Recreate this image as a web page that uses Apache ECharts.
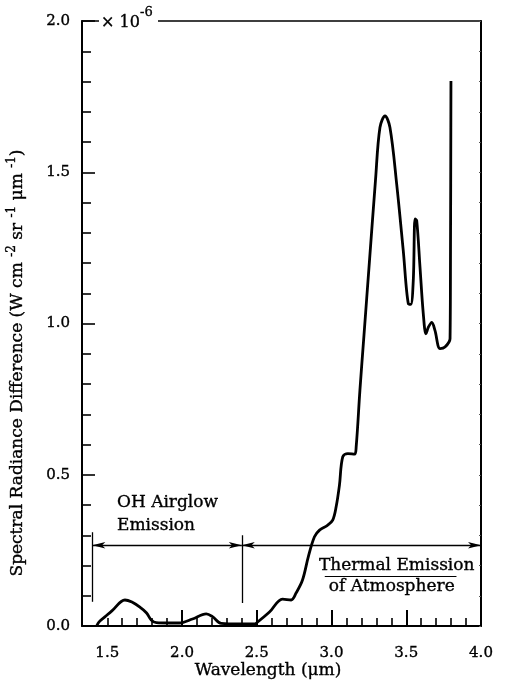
<!DOCTYPE html>
<html><head><meta charset="utf-8">
<script src="https://cdn.jsdelivr.net/npm/echarts@6/dist/echarts.min.js"></script>
<style>html,body{margin:0;padding:0;background:#fff}#c{width:505px;height:684px}</style>
</head><body><div id="c"></div>
<script>
// ---- data ----
const wavelength = [1.429,1.444,1.484,1.531,1.618,1.665,1.716,1.763,1.794,1.828,1.917,1.983,2.070,2.162,2.204,2.262,2.385,2.485,2.498,2.585,2.672,2.730,2.763,2.806,2.846,2.886,2.920,2.973,3.008,3.031,3.053,3.075,3.109,3.154,3.165,3.190,3.217,3.254,3.294,3.324,3.358,3.391,3.436,3.480,3.514,3.530,3.547,3.559,3.570,3.592,3.614,3.632,3.648,3.671,3.692,3.726,3.759,3.793,3.796,3.799];
const radiance   = [0.000,0.013,0.030,0.050,0.086,0.079,0.063,0.043,0.020,0.011,0.010,0.010,0.023,0.040,0.031,0.009,0.007,0.007,0.010,0.046,0.089,0.086,0.109,0.152,0.231,0.295,0.317,0.333,0.350,0.394,0.465,0.559,0.570,0.568,0.592,0.779,0.960,1.207,1.472,1.648,1.686,1.648,1.461,1.241,1.065,1.063,1.142,1.346,1.340,1.186,1.032,0.966,0.988,1.004,0.977,0.917,0.922,0.950,1.241,1.802];
const xTickLabels = [1.5,2.0,2.5,3.0,3.5,4.0];
const xMajorTicks = [2.0,2.5,3.0,3.5];
const xMinorTicks = [1.5,1.6,1.7,1.8,1.9,2.1,2.2,2.3,2.4,2.6,2.7,2.8,2.9,3.1,3.2,3.3,3.4,3.6,3.7,3.8,3.9];
const xRange = [1.331, 4.0];
const yRange = [0, 2.0];
const yLabelStep = 0.5;
// annotation geometry (data coordinates)
const arrowY = 0.267;
const ohArrow = [[1.40, arrowY],[2.40, arrowY]];
const thermalArrow = [[2.40, arrowY],[4.0, arrowY]];
const ohBar = [[1.40, 0.31],[1.40, 0.08]];
const midBar = [[2.40, 0.30],[2.40, 0.076]];
const thermalRule = [[2.955, 0.165],[3.836, 0.165]];
const ohText = [{t:'OH Airglow', x:1.565, y:0.409},{t:'Emission', x:1.565, y:0.333}];
const thermalText = [{t:'Thermal Emission', x:3.436, y:0.201},{t:'of Atmosphere', x:3.403, y:0.129}];

const FONT = 'DejaVu Serif';
const INK = {textBorderColor:'#000', textBorderWidth:0.35};
const chart = echarts.init(document.getElementById('c'), null, {renderer:'canvas'});
const lineData = wavelength.map((x,i)=>[x, radiance[i]]);

const option = {
  animation:false,
  backgroundColor:'#fff',
  grid:{left:82,right:24,top:21,bottom:58},
  xAxis:[
    {type:'value',position:'bottom',min:xRange[0],max:xRange[1],
     axisLine:{show:true,lineStyle:{color:'#000',width:2}},
     axisTick:{show:true,inside:true,length:16,customValues:xMajorTicks,lineStyle:{color:'#000',width:2}},
     axisLabel:Object.assign({show:true,customValues:xTickLabels,margin:20,color:'#000',fontFamily:FONT,fontSize:15,
       formatter:v=>v.toFixed(1)}, INK),
     splitLine:{show:false}},
    {type:'value',position:'bottom',min:xRange[0],max:xRange[1],
     axisLine:{show:false},
     axisTick:{show:true,inside:true,length:8,customValues:xMinorTicks,lineStyle:{color:'#000',width:1.6}},
     axisLabel:{show:false},splitLine:{show:false}},
    {type:'value',position:'top',min:xRange[0],max:xRange[1],
     axisLine:{show:true,lineStyle:{color:'#000',width:1.6}},
     axisTick:{show:false},axisLabel:{show:false},splitLine:{show:false}}
  ],
  yAxis:[
    {type:'value',position:'left',min:yRange[0],max:yRange[1],interval:yLabelStep,
     axisLine:{show:true,lineStyle:{color:'#000',width:2}},
     axisTick:{show:true,inside:true,length:13,lineStyle:{color:'#000',width:1.6}},
     minorTick:{show:true,splitNumber:5,length:9,lineStyle:{color:'#000',width:1.6}},
     axisLabel:Object.assign({color:'#000',fontFamily:FONT,fontSize:15,margin:12,formatter:v=>v.toFixed(1)}, INK),
     splitLine:{show:false}},
    {type:'value',position:'right',min:yRange[0],max:yRange[1],interval:0.1,
     axisLine:{show:true,lineStyle:{color:'#000',width:2}},
     axisTick:{show:true,inside:true,length:2,lineStyle:{color:'#555',width:1}},
     axisLabel:{show:false},splitLine:{show:false}}
  ],
  series:[
    {type:'line',xAxisIndex:0,yAxisIndex:0,data:lineData,symbol:'none',smooth:0.35,
     lineStyle:{color:'#000',width:2.8},z:5},
    {type:'line',xAxisIndex:0,yAxisIndex:0,data:[],symbol:'none',
     markLine:{silent:true,animation:false,label:{show:false},
       lineStyle:{color:'#000',width:1.3,type:'solid'},
       symbolSize:[5,13],
       data:[
         [{coord:ohArrow[0],symbol:'arrow'},{coord:ohArrow[1],symbol:'arrow'}],
         [{coord:thermalArrow[0],symbol:'arrow'},{coord:thermalArrow[1],symbol:'arrow'}],
         [{coord:ohBar[0],symbol:'none'},{coord:ohBar[1],symbol:'none'}],
         [{coord:midBar[0],symbol:'none'},{coord:midBar[1],symbol:'none'}],
         [{coord:thermalRule[0],symbol:'none',lineStyle:{width:1}},{coord:thermalRule[1],symbol:'none'}]
       ]}}
  ]
};
chart.setOption(option);

function px(p){ return chart.convertToPixel({xAxisIndex:0,yAxisIndex:0}, p); }
const GINK = {fill:'#000', stroke:'#000', lineWidth:0.35};
function ts(o){ return Object.assign({}, GINK, o); }
const graphics = [];
ohText.forEach(o=>{
  const p = px([o.x,o.y]);
  graphics.push({type:'text',x:p[0],y:p[1],z:100,style:ts({text:o.t,font:'17px "'+FONT+'"',align:'left',verticalAlign:'middle'})});
});
thermalText.forEach(o=>{
  const p = px([o.x,o.y]);
  graphics.push({type:'text',x:p[0],y:p[1],z:100,style:ts({text:o.t,font:'17px "'+FONT+'"',align:'center',verticalAlign:'middle'})});
});
// axis titles and multiplier
const supStyle = Object.assign({fontFamily:FONT,fontSize:12,padding:[0,0,12,0]}, GINK);
graphics.push({type:'text',x:18,y:363,rotation:Math.PI/2,z:100,
  style:ts({text:'Spectral Radiance Difference (W cm {s|-2} sr {s|-1} \u03BCm {s|-1})',
    fontFamily:FONT,fontSize:17,align:'center',verticalAlign:'middle',
    rich:{s:supStyle}})});
graphics.push({type:'text',x:268,y:671,z:100,
  style:ts({text:'Wavelength (\u03BCm)',font:'17px "'+FONT+'"',align:'center',verticalAlign:'middle'})});
graphics.push({type:'rect',shape:{x:99,y:16,width:59,height:10},style:{fill:'#fff'},z:99});
graphics.push({type:'text',x:101,y:23,z:100,style:ts({text:'\u00D7 10',font:'16px "'+FONT+'"',align:'left',verticalAlign:'middle'})});
graphics.push({type:'text',x:140,y:13,z:100,style:ts({text:'-6',font:'13px "'+FONT+'"',align:'left',verticalAlign:'middle'})});
chart.setOption({graphic:graphics});
</script>
</body></html>
